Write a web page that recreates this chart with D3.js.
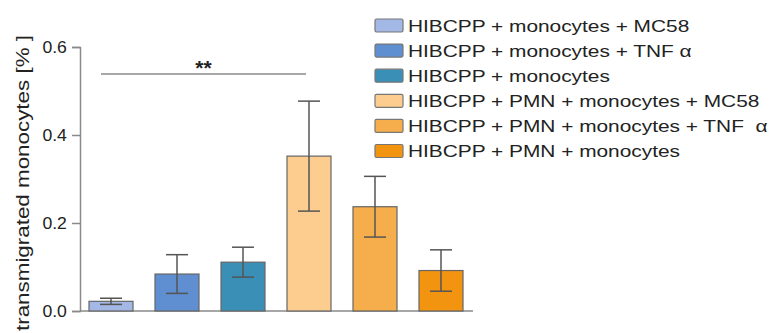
<!DOCTYPE html>
<html>
<head>
<meta charset="utf-8">
<script src="https://cdn.jsdelivr.net/npm/d3@7"></script>
<style>
  body { margin: 0; background: #fff; }
  svg { display: block; font-family: "Liberation Sans", Arial, sans-serif; }
</style>
</head>
<body>
<div id="chart"></div>
<script>
// groups shown as bars, in order left to right
var groups = [
    'HIBCPP + monocytes + MC58',
    'HIBCPP + monocytes + TNF \u03b1',
    'HIBCPP + monocytes',
    'HIBCPP + PMN + monocytes + MC58',
    'HIBCPP + PMN + monocytes + TNF  \u03b1',
    'HIBCPP + PMN + monocytes'
];
var means = [0.022, 0.084, 0.111, 0.352, 0.237, 0.092];
var errs = [0.007, 0.044, 0.034, 0.125, 0.069, 0.047];
var barColors = ['#a3b8e4', '#5f8fd0', '#3a8fb7', '#fccd8e', '#f6ae4d', '#f29410'];
var yTicks = [0.0, 0.2, 0.4, 0.6];
var yLabel = 'transmigrated monocytes [% ]';
var sigLabel = '**';

drawBars('chart');

function drawBars(divName) {
    var svgwidth = 771, svgheight = 333;
    var svg = d3.select('#' + divName).append('svg')
        .attr('width', svgwidth)
        .attr('height', svgheight);

    // plot area
    var x = d3.scaleBand()
        .domain(d3.range(groups.length))
        .range([78, 474])
        .paddingInner(1 / 3)
        .paddingOuter(1 / 6);
    var y = d3.scaleLinear().domain([0, 0.6]).range([311, 47]);
    var axisColor = '#8a8a8a';

    // y axis
    var yAxis = svg.append('g')
        .attr('transform', 'translate(80,0)')
        .call(d3.axisLeft(y).tickValues(yTicks).tickSize(8).tickPadding(4).tickFormat(d3.format('.1f')));
    yAxis.select('.domain').attr('stroke', axisColor).attr('stroke-width', 1.5);
    yAxis.selectAll('.tick line').attr('stroke', axisColor).attr('stroke-width', 1.5);
    yAxis.selectAll('.tick text')
        .attr('fill', '#222')
        .style('font-size', '16px')
        .attr('font-family', '"Liberation Sans", Arial, sans-serif')
        .attr('transform', 'scale(1.1,1)')
        .attr('x', -12 / 1.1 - 1)
        .attr('dy', '0.35em');

    // x baseline
    svg.append('line')
        .attr('x1', 80).attr('x2', 473)
        .attr('y1', y(0)).attr('y2', y(0))
        .attr('stroke', axisColor).attr('stroke-width', 1.5);

    // y label
    svg.append('text')
        .attr('transform', 'translate(29,' + 331 + ') rotate(-90)')
        .attr('fill', '#222')
        .style('font-size', '18px')
        .style('white-space', 'pre')
        .attr('textLength', 296)
        .attr('lengthAdjust', 'spacingAndGlyphs')
        .text(yLabel);

    // bars
    svg.selectAll('.bar')
        .data(means)
        .enter()
        .append('rect')
        .attr('class', 'bar')
        .attr('x', function (d, i) { return x(i); })
        .attr('y', function (d) { return y(d); })
        .attr('width', x.bandwidth())
        .attr('height', function (d) { return y(0) - y(d); })
        .attr('fill', function (d, i) { return barColors[i]; })
        .attr('stroke', '#666')
        .attr('stroke-width', 1.2);

    // error bars
    var eb = svg.selectAll('.err')
        .data(means)
        .enter()
        .append('g')
        .attr('class', 'err')
        .attr('stroke', '#555')
        .attr('stroke-width', 1.5);
    var cx = function (i) { return x(i) + x.bandwidth() / 2; };
    eb.append('line')
        .attr('x1', function (d, i) { return cx(i); })
        .attr('x2', function (d, i) { return cx(i); })
        .attr('y1', function (d, i) { return y(d - errs[i]); })
        .attr('y2', function (d, i) { return y(d + errs[i]); });
    eb.append('line')
        .attr('x1', function (d, i) { return cx(i) - 11; })
        .attr('x2', function (d, i) { return cx(i) + 11; })
        .attr('y1', function (d, i) { return y(d + errs[i]); })
        .attr('y2', function (d, i) { return y(d + errs[i]); });
    eb.append('line')
        .attr('x1', function (d, i) { return cx(i) - 11; })
        .attr('x2', function (d, i) { return cx(i) + 11; })
        .attr('y1', function (d, i) { return y(d - errs[i]); })
        .attr('y2', function (d, i) { return y(d - errs[i]); });

    // significance bracket between group 1 and group 4
    var sx1 = x(0) + 12, sx2 = cx(3) - 3;
    svg.append('line')
        .attr('x1', sx1).attr('x2', sx2)
        .attr('y1', 74).attr('y2', 74)
        .attr('stroke', axisColor).attr('stroke-width', 1.5);
    svg.append('text')
        .attr('x', (sx1 + sx2) / 2)
        .attr('y', 75)
        .attr('text-anchor', 'middle')
        .attr('fill', '#222')
        .style('font-size', '21px')
        .style('font-weight', 'bold')
        .text(sigLabel);

    // legend
    var legend = svg.selectAll('.leg')
        .data(groups)
        .enter()
        .append('g')
        .attr('class', 'leg')
        .attr('transform', function (d, i) { return 'translate(375,' + (19 + i * 25.1) + ')'; });
    legend.append('rect')
        .attr('width', 28)
        .attr('height', 13)
        .attr('rx', 1.5)
        .attr('fill', function (d, i) { return barColors[i]; })
        .attr('stroke', '#777')
        .attr('stroke-width', 1.2);
    legend.append('text')
        .attr('transform', 'translate(33,12.5) scale(1.228,1)')
        .attr('fill', '#222')
        .style('font-size', '17px')
        .style('white-space', 'pre')
        .text(function (d) { return d; });
}
</script>
</body>
</html>
